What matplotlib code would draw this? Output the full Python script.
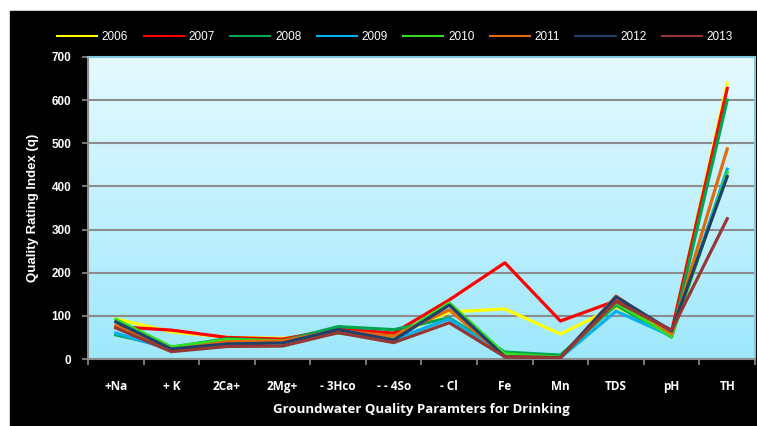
import numpy as np
import matplotlib.pyplot as plt
from matplotlib.patches import Rectangle

# categories (x axis)
params = ['+Na', '+ K', '2Ca+', '2Mg+', '- 3Hco', '- - 4So', '- Cl',
          'Fe', 'Mn', 'TDS', 'pH', 'TH']

# quality rating index per year
q2006 = [93, 63, 50, 48, 60, 53, 109, 116, 58, 121, 60, 639]
q2007 = [75, 67, 50, 46, 70, 60, 137, 223, 88, 135, 64, 627]
q2008 = [56, 27, 47, 42, 75, 68, 95, 16, 9, 125, 51, 600]
q2009 = [60, 22, 36, 40, 62, 45, 93, 8, 3, 111, 53, 440]
q2010 = [92, 28, 45, 42, 60, 48, 130, 12, 4, 130, 52, 432]
q2011 = [77, 21, 40, 42, 66, 53, 114, 5, 3, 146, 58, 487]
q2012 = [86, 23, 35, 37, 68, 44, 125, 5, 3, 144, 65, 423]
q2013 = [72, 17, 29, 30, 61, 38, 84, 5, 3, 133, 67, 325]

years = ['2006', '2007', '2008', '2009', '2010', '2011', '2012', '2013']
series = [q2006, q2007, q2008, q2009, q2010, q2011, q2012, q2013]
colors = ['#ffff00', '#ff0000', '#00a550', '#00b0f0', '#33dd22',
          '#e36c09', '#1f3f6d', '#953735']

W, H = 757, 426
fig = plt.figure(figsize=(W / 100, H / 100), dpi=100)
fig.patch.set_facecolor('white')
# black chart box (runs off the bottom and right edges)
fig.patches.append(Rectangle((10 / W, 0), 1 - 10 / W, 1 - 11 / H,
                             transform=fig.transFigure, color='black', zorder=-10))

ax = fig.add_axes([88 / W, 1 - 359 / H, (755 - 88) / W, (359 - 57) / H])
x = np.arange(len(params))
ax.set_xlim(-0.5, len(params) - 0.5)
ax.set_ylim(0, 700)

# gradient background
grad = np.linspace(0, 1, 256).reshape(-1, 1)
top = np.array([0.90, 0.98, 1.0])
bot = np.array([0.62, 0.91, 0.99])
img = bot + (top - bot) * grad
ax.imshow(img[:, None, :].repeat(2, axis=1), extent=[-0.5, len(params) - 0.5, 0, 700],
          aspect='auto', origin='lower', zorder=0)

ax.set_yticks(range(0, 701, 100))
ax.grid(axis='y', color='#8c8c8c', lw=1.5, zorder=1)

for vals, c, yr in zip(series, colors, years):
    ax.plot(x, vals, color=c, lw=2.3, label=yr, zorder=3)

ax.set_xticks(x)
ax.set_xticklabels(params, color='white', fontsize=8.5, fontweight='bold',
                   family='Open Sans')
ax.set_xticks(np.arange(-0.5, len(params)), minor=True)
ax.tick_params(axis='x', which='major', length=0, pad=15)
ax.tick_params(axis='x', which='minor', length=4, color='#8c8c8c', width=1.2)
ax.tick_params(axis='y', length=4, color='#8c8c8c', width=1.2, pad=8)
for lab in ax.get_yticklabels():
    lab.set_color('white')
    lab.set_fontsize(8.5)
    lab.set_fontweight('bold')
    lab.set_family('Liberation Sans')

for s in ax.spines.values():
    s.set_color('#8c8c8c')
    s.set_linewidth(1.5)
ax.spines['top'].set_color('#7fc8e0')
ax.spines['right'].set_color('#7fc8e0')

ax.set_xlabel('Groundwater Quality Paramters for Drinking', color='white',
              fontsize=9.5, fontweight='bold', family='Open Sans', labelpad=7)
ax.set_ylabel('Quality Rating Index (q)', color='white', fontsize=9.5,
              fontweight='bold', family='Liberation Sans', labelpad=9)

leg = fig.legend(loc='center', bbox_to_anchor=(395 / W, 1 - 37 / H), ncol=8,
                 frameon=False, handlelength=3.4, columnspacing=1.3,
                 handletextpad=0.4, prop={'family': 'Liberation Sans', 'size': 8.5})
for t in leg.get_texts():
    t.set_color('white')
for l in leg.get_lines():
    l.set_linewidth(1.5)

fig.savefig('out.png', dpi=100, facecolor=fig.get_facecolor())
